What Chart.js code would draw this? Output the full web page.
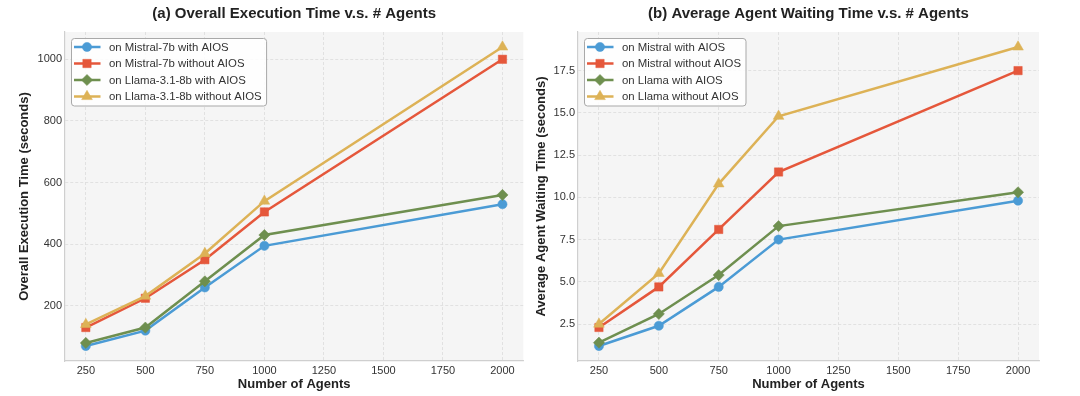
<!DOCTYPE html>
<html><head><meta charset="utf-8">
<script src="https://cdn.jsdelivr.net/npm/chart.js@4/dist/chart.umd.min.js"></script>
<style>
html,body{margin:0;padding:0;background:#fff;}
#wrap{position:relative;width:1080px;height:396px;overflow:hidden;background:#fff;}
#c1{position:absolute;left:0;top:0;}
#c2{position:absolute;left:530px;top:0;}
</style></head><body>
<div id="wrap"><canvas id="c1" width="530" height="396"></canvas><canvas id="c2" width="550" height="396"></canvas></div>
<script>
const agents = [250, 500, 750, 1000, 2000];
const xTicks = [250, 500, 750, 1000, 1250, 1500, 1750, 2000];

const execMistralWith    = [70, 120, 260, 395, 530];
const execMistralWithout = [130, 225, 350, 505, 1000];
const execLlamaWith      = [80, 130, 280, 430, 560];
const execLlamaWithout   = [140, 232, 370, 540, 1040];
const execTicks = [200, 400, 600, 800, 1000];

const waitMistralWith    = [1.2, 2.4, 4.7, 7.5, 9.8];
const waitMistralWithout = [2.3, 4.7, 8.1, 11.5, 17.5];
const waitLlamaWith      = [1.4, 3.1, 5.4, 8.3, 10.3];
const waitLlamaWithout   = [2.5, 5.5, 10.8, 14.8, 18.9];
const waitTicks = [2.5, 5.0, 7.5, 10.0, 12.5, 15.0, 17.5];

const execLabels = ['on Mistral-7b with AIOS', 'on Mistral-7b without AIOS', 'on Llama-3.1-8b with AIOS', 'on Llama-3.1-8b without AIOS'];
const waitLabels = ['on Mistral with AIOS', 'on Mistral without AIOS', 'on Llama with AIOS', 'on Llama without AIOS'];

const FAMILY = '"Liberation Sans", Arial, Helvetica, sans-serif';
Chart.defaults.font.family = FAMILY;
Chart.defaults.color = '#333333';

const colors = ['#4b9bd5', '#e5573b', '#6e8f4f', '#ddb256'];
const markers = ['circle', 'rect', 'rectRot', 'triangle'];
const radii = [4.6, 5.9, 5.6, 6.2];
const orders = [4, 3, 2, 1];

function makeDatasets(labels, series) {
  return series.map((vals, i) => ({
    label: labels[i],
    data: agents.map((a, j) => ({ x: a, y: vals[j] })),
    borderColor: colors[i],
    backgroundColor: colors[i],
    pointBackgroundColor: colors[i],
    pointBorderColor: colors[i],
    pointBorderWidth: 0.5,
    pointStyle: markers[i],
    pointRadius: radii[i],
    pointHoverRadius: radii[i],
    borderWidth: 2.5,
    tension: 0,
    order: orders[i],
    clip: false
  }));
}

const plotBg = {
  id: 'plotBg',
  beforeDraw(chart) {
    const { ctx, chartArea: a } = chart;
    ctx.save();
    ctx.fillStyle = '#f5f5f5';
    ctx.fillRect(a.left, a.top, a.right - a.left, a.bottom - a.top);
    ctx.restore();
  }
};

const frameLegend = {
  id: 'frameLegend',
  afterDatasetsDraw(chart) {
    const ctx = chart.ctx, ca = chart.chartArea;
    const dsets = chart.data.datasets;
    ctx.save();
    ctx.font = '11.4px ' + FAMILY;
    const tw = Math.max(...dsets.map(d => ctx.measureText(d.label).width));
    const x0 = ca.left + 6.5, y0 = ca.top + 6.5;
    const w = 37.5 + tw + 5, h = 67.5;
    ctx.beginPath();
    if (ctx.roundRect) ctx.roundRect(x0, y0, w, h, 3); else ctx.rect(x0, y0, w, h);
    ctx.fillStyle = 'rgba(255,255,255,0.85)';
    ctx.fill();
    ctx.strokeStyle = '#a9a9a9';
    ctx.lineWidth = 1;
    ctx.stroke();
    dsets.forEach((ds, i) => {
      const cy = y0 + 8.5 + i * 16.5;
      ctx.strokeStyle = ds.borderColor;
      ctx.lineWidth = 2.5;
      ctx.beginPath(); ctx.moveTo(x0 + 2.5, cy); ctx.lineTo(x0 + 29, cy); ctx.stroke();
      ctx.fillStyle = ds.borderColor;
      ctx.strokeStyle = ds.borderColor;
      ctx.lineWidth = 0.5;
      Chart.helpers.drawPoint(ctx, { pointStyle: ds.pointStyle, radius: ds.pointRadius, rotation: 0, borderWidth: 0.5 }, x0 + 15.5, cy);
      ctx.fillStyle = '#333333';
      ctx.textBaseline = 'middle';
      ctx.textAlign = 'left';
      ctx.fillText(ds.label, x0 + 37.5, cy + 0.5);
    });
    ctx.restore();
  }
};

function padRange(arrs) {
  const all = arrs.flat();
  const mn = Math.min(...all), mx = Math.max(...all), r = mx - mn;
  return [mn - 0.05 * r, mx + 0.05 * r];
}

function makeChart(canvas, cfg) {
  const yr = padRange(cfg.series);
  const xr = padRange([agents]);
  return new Chart(canvas, {
    type: 'line',
    data: { datasets: makeDatasets(cfg.labels, cfg.series) },
    options: {
      responsive: false,
      animation: false,
      devicePixelRatio: 1,
      layout: { padding: { left: 0, right: cfg.padRight, top: 0, bottom: 0 } },
      plugins: {
        legend: { display: false },
        tooltip: { enabled: false },
        title: {
          display: true, text: cfg.title, fullSize: false,
          color: '#222222',
          font: { size: 15, weight: 'bold', family: FAMILY, lineHeight: 1.2 },
          padding: { top: 5, bottom: 9 }
        }
      },
      scales: {
        x: {
          type: 'linear', min: xr[0], max: xr[1],
          afterBuildTicks: s => { s.ticks = xTicks.map(v => ({ value: v })); },
          afterFit: s => { s.height = 35; },
          ticks: { autoSkip: false, maxRotation: 0, padding: 3, font: { size: 11 }, color: '#333333', callback: v => String(v) },
          grid: { color: '#dcdcdc', lineWidth: 0.8, drawTicks: false },
          border: { display: true, color: '#cfcfcf', width: 1.2, dash: [3, 2] },
          title: { display: true, text: 'Number of Agents', color: '#222222', font: { size: 13, weight: 'bold', lineHeight: 1.2 }, padding: { top: 0, bottom: 4 } }
        },
        y: {
          type: 'linear', min: yr[0], max: yr[1],
          afterBuildTicks: s => { s.ticks = cfg.ticks.map(v => ({ value: v })); },
          afterFit: s => { s.width = cfg.yWidth; },
          ticks: { autoSkip: false, padding: 3, font: { size: 11 }, color: '#333333', callback: cfg.fmt },
          grid: { color: '#dcdcdc', lineWidth: 0.8, drawTicks: false },
          border: { display: true, color: '#cfcfcf', width: 1.2, dash: [3, 2] },
          title: { display: true, text: cfg.yTitle, color: '#222222', font: { size: 13, weight: 'bold', lineHeight: 1.2 }, padding: { top: cfg.yTitlePad, bottom: 0 } }
        }
      }
    },
    plugins: [plotBg, frameLegend]
  });
}

makeChart(document.getElementById('c1'), {
  title: '(a) Overall Execution Time v.s. # Agents',
  labels: execLabels,
  series: [execMistralWith, execMistralWithout, execLlamaWith, execLlamaWithout],
  ticks: execTicks,
  fmt: v => String(v),
  yTitle: 'Overall Execution Time (seconds)',
  yWidth: 65, yTitlePad: 17, padRight: 5
});

makeChart(document.getElementById('c2'), {
  title: '(b) Average Agent Waiting Time v.s. # Agents',
  labels: waitLabels,
  series: [waitMistralWith, waitMistralWithout, waitLlamaWith, waitLlamaWithout],
  ticks: waitTicks,
  fmt: v => Number(v).toFixed(1),
  yTitle: 'Average Agent Waiting Time (seconds)',
  yWidth: 48, yTitlePad: 4, padRight: 41
});
</script>
</body></html>
